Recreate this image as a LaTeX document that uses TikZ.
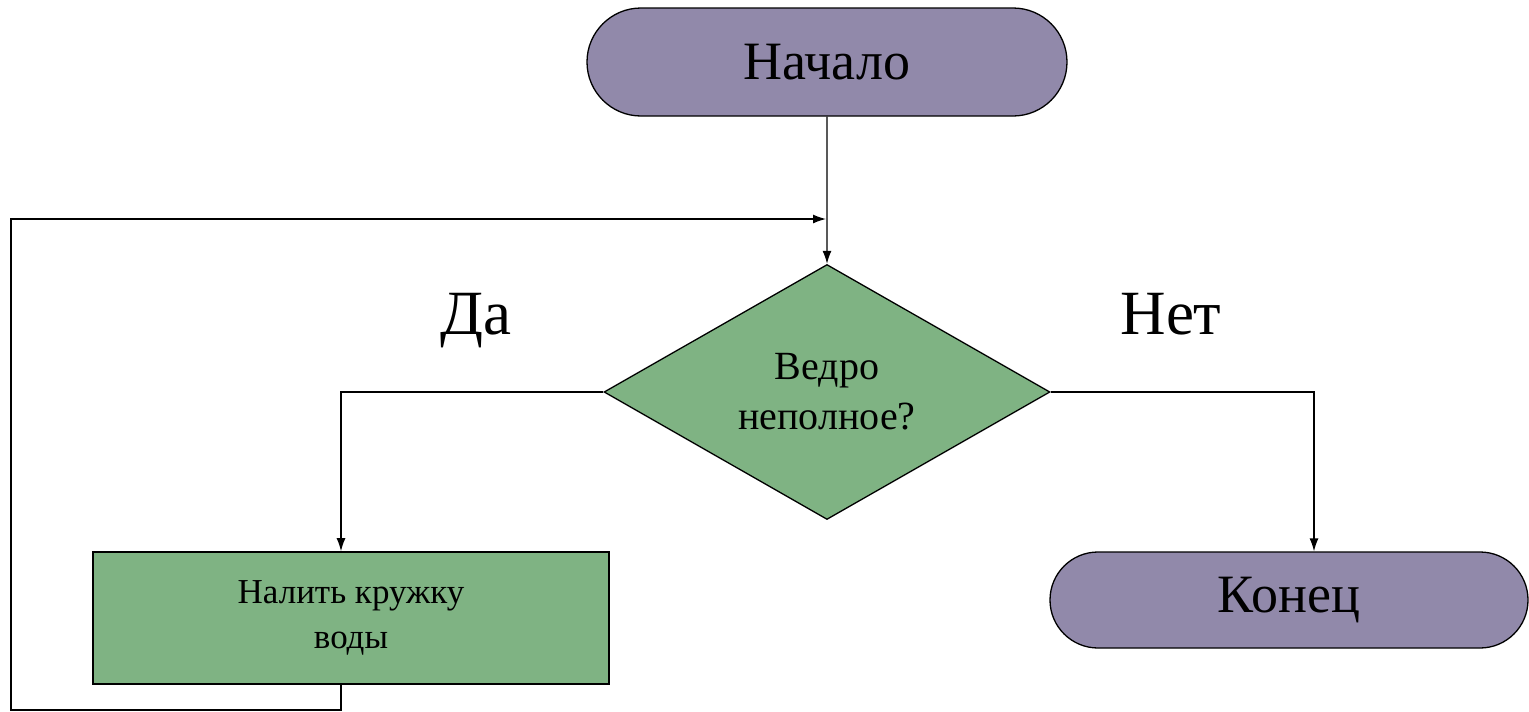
\documentclass[tikz,border=0pt]{standalone}
\usepackage{fontspec}
\setmainfont{Liberation Serif}
\usepackage{tikz}
\usetikzlibrary{positioning,shapes.geometric,shapes.misc,arrows.meta,calc}
\definecolor{ink}   {HTML}{000000}
\definecolor{lilac} {HTML}{9189AA}
\definecolor{sage}  {HTML}{7FB383}
\tikzset{
  % --- nodes
  term/.style   = {rounded rectangle, draw=ink, fill=lilac, line width=1.3pt,
                   inner sep=0pt, font=\fontsize{54}{60}\selectfont},
  decide/.style = {diamond, draw=ink, fill=sage, line width=1.3pt, inner sep=0pt,
                   aspect=1.75, align=center, font=\fontsize{40}{50}\selectfont},
  proc/.style   = {rectangle, draw=ink, fill=sage, line width=1.6pt, align=center,
                   font=\fontsize{35}{45}\selectfont},
  lbl/.style    = {anchor=base, font=\fontsize{63}{70}\selectfont},
  % --- edges
  e/.style      = {-{Latex[length=13pt,width=9pt]}, line width=1.3pt, draw=ink},
}
\begin{document}
\begin{tikzpicture}[x=1pt,y=-1pt]
  \useasboundingbox (0,0) rectangle (1529,712);
  \node[term, minimum width=480pt, minimum height=108pt] (start) at (827,62) {Начало};
  \node[decide, minimum width=446pt, minimum height=255pt] (cond) at (827,392) {Ведро\\неполное?};
  \node[proc, minimum width=516pt, minimum height=132pt] (pour) at (351,618) {Налить кружку\\воды};
  \node[term, minimum width=478pt, minimum height=96pt] (stop) at (1289,600) {Конец};
  \node[lbl] (yes) at (476,334) {Да};
  \node[lbl] (no) at (1171,334) {Нет};
  \coordinate (lbot) at (341,710);
  \coordinate (ltop) at (11,219);
  \coordinate (loopin) at (826,219);
  \draw[e] (start) -- (cond);
  \draw[e] (cond.west) -| ([xshift=-10pt]pour.north);
  \draw[e] (cond.east) -| ([xshift=25pt]stop.north);
  \draw[e] ([xshift=-10pt]pour.south) -- (lbot) -| (ltop) -- (loopin);
\end{tikzpicture}
\end{document}
